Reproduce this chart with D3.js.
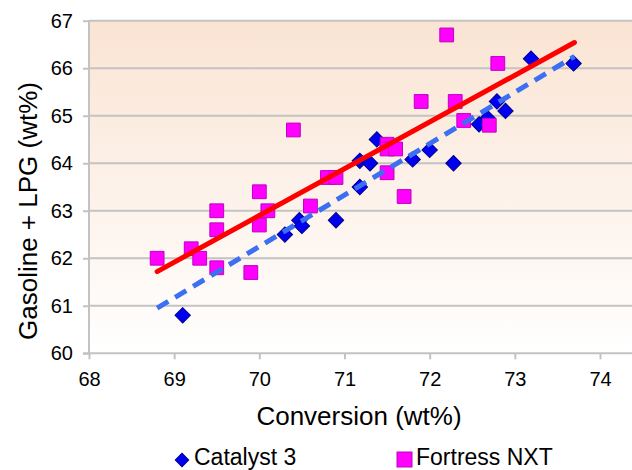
<!DOCTYPE html>
<html>
<head>
<meta charset="utf-8">
<script src="https://cdn.jsdelivr.net/npm/d3@7"></script>
<style>
  body { margin: 0; background: #fff; }
  svg { display: block; font-family: "Liberation Sans", Arial, sans-serif; }
</style>
</head>
<body>
<div id="chart"></div>
<script>
// Catalyst 3 (blue diamonds)
const catX = [69.1, 70.3, 70.47, 70.5, 70.9, 71.18, 71.18, 71.3, 71.38, 71.8, 72.0, 72.28, 72.58, 72.68, 72.79, 72.89, 73.19, 73.69];
const catY = [60.8, 62.5, 62.8, 62.68, 62.8, 64.05, 63.5, 64.0, 64.5, 64.08, 64.28, 64.0, 64.82, 64.95, 65.3, 65.1, 66.2, 66.1];

// Fortress NXT (magenta squares)
const ftX = [68.8, 69.2, 69.3, 69.5, 69.5, 69.5, 69.9, 70.0, 70.0, 70.1, 70.4, 70.6, 70.8, 70.9, 71.5, 71.5, 71.6, 71.5, 71.7, 71.9, 72.2, 72.3, 72.4, 72.7, 72.8];
const ftY = [62.0, 62.2, 62.0, 63.0, 62.6, 61.8, 61.7, 63.4, 62.7, 63.0, 64.7, 63.1, 63.7, 63.7, 64.4, 64.3, 64.3, 63.8, 63.3, 65.3, 66.7, 65.3, 64.9, 64.8, 66.1];

// linear trend lines (end points)
const catTrendX = [68.8, 73.7];
const catTrendY = [60.95, 66.25];
const ftTrendX = [68.8, 73.7];
const ftTrendY = [61.72, 66.54];

const xTicks = [68, 69, 70, 71, 72, 73, 74];
const yTicks = [60, 61, 62, 63, 64, 65, 66, 67];
const seriesNames = ["Catalyst 3", "Fortress NXT"];

const width = 632, height = 470;
const plotLeft = 89, plotRight = 632, plotTop = 20.7, plotBottom = 353.3;

const x = d3.scaleLinear().domain([68, 74]).range([plotLeft, 600]);
const y = d3.scaleLinear().domain([60, 67]).range([plotBottom, plotTop]);

const svg = d3.select("#chart").append("svg")
  .attr("width", width)
  .attr("height", height);

const grad = svg.append("defs").append("linearGradient")
  .attr("id", "bg").attr("x1", 0).attr("y1", 0).attr("x2", 0).attr("y2", 1);
grad.append("stop").attr("offset", "0%").attr("stop-color", "#fae4d3");
grad.append("stop").attr("offset", "100%").attr("stop-color", "#ffffff");

svg.append("rect")
  .attr("x", plotLeft).attr("y", plotTop)
  .attr("width", plotRight - plotLeft).attr("height", plotBottom - plotTop)
  .attr("fill", "url(#bg)");

// gridlines
svg.selectAll("line.grid")
  .data(yTicks.slice(1))
  .enter().append("line")
  .attr("class", "grid")
  .attr("x1", plotLeft).attr("x2", plotRight)
  .attr("y1", d => y(d)).attr("y2", d => y(d))
  .attr("stroke", "#c3c3c3").attr("stroke-width", 2);

// y axis
const yAxis = svg.append("g")
  .attr("transform", `translate(${plotLeft},0)`)
  .call(d3.axisLeft(y).tickValues(yTicks).tickSize(6).tickPadding(10).tickFormat(d3.format("d")));
// x axis
const xAxis = svg.append("g")
  .attr("transform", `translate(0,${plotBottom})`)
  .call(d3.axisBottom(x).tickValues(xTicks).tickSize(6).tickPadding(9).tickFormat(d3.format("d")));

[xAxis, yAxis].forEach(g => {
  g.select(".domain").remove();
  g.selectAll(".tick line").attr("stroke", "#c3c3c3").attr("stroke-width", 2);
  g.selectAll("text").attr("font-size", 20).attr("fill", "#000")
    .attr("font-family", "'Liberation Sans', Arial, sans-serif");
});
xAxis.selectAll("text").attr("dy", "0.9em");

svg.append("line")
  .attr("x1", plotLeft).attr("x2", plotLeft).attr("y1", plotTop).attr("y2", plotBottom)
  .attr("stroke", "#c3c3c3").attr("stroke-width", 2);
svg.append("line")
  .attr("x1", plotLeft - 6).attr("x2", plotRight).attr("y1", plotBottom).attr("y2", plotBottom)
  .attr("stroke", "#c3c3c3").attr("stroke-width", 2);

// markers
const diamond = d3.symbol().type(d3.symbolSquare).size(118);
const square = d3.symbol().type(d3.symbolSquare).size(190);

svg.append("g").selectAll("path")
  .data(catX.map((v, i) => [v, catY[i]]))
  .enter().append("path")
  .attr("d", diamond)
  .attr("transform", d => `translate(${x(d[0])},${y(d[1])}) rotate(45)`)
  .attr("fill", "#0000f0")
  .attr("stroke", "#00008b").attr("stroke-width", 1);

svg.append("g").selectAll("path")
  .data(ftX.map((v, i) => [v, ftY[i]]))
  .enter().append("path")
  .attr("d", square)
  .attr("transform", d => `translate(${x(d[0])},${y(d[1])})`)
  .attr("fill", "#ff00ff")
  .attr("stroke", "#c000c0").attr("stroke-width", 1);

// trend lines
const line = d3.line().x(d => x(d[0])).y(d => y(d[1]));
svg.append("path")
  .datum(catTrendX.map((v, i) => [v, catTrendY[i]]))
  .attr("d", line)
  .attr("fill", "none")
  .attr("stroke", "#3c6ff2").attr("stroke-width", 5)
  .attr("stroke-dasharray", "13,8");
svg.append("path")
  .datum(ftTrendX.map((v, i) => [v, ftTrendY[i]]))
  .attr("d", line)
  .attr("fill", "none")
  .attr("stroke", "#ff0000").attr("stroke-width", 5)
  .attr("stroke-linecap", "round");

// axis titles
svg.append("text")
  .attr("x", 359).attr("y", 425)
  .attr("text-anchor", "middle")
  .attr("font-size", 26)
  .text("Conversion (wt%)");

svg.append("text")
  .attr("transform", "translate(37,211) rotate(-90)")
  .attr("text-anchor", "middle")
  .attr("font-size", 26)
  .text("Gasoline + LPG (wt%)");

// legend
const legend = svg.append("g");
legend.append("path")
  .attr("d", d3.symbol().type(d3.symbolSquare).size(90))
  .attr("transform", "translate(182,460) rotate(45)")
  .attr("fill", "#0000f0").attr("stroke", "#00008b");
legend.append("text")
  .attr("x", 194).attr("y", 465)
  .attr("font-size", 23)
  .text(seriesNames[0]);
legend.append("rect")
  .attr("x", 397).attr("y", 452).attr("width", 15).attr("height", 15)
  .attr("fill", "#ff00ff").attr("stroke", "#c000c0");
legend.append("text")
  .attr("x", 416).attr("y", 465)
  .attr("font-size", 23)
  .text(seriesNames[1]);
</script>
</body>
</html>
